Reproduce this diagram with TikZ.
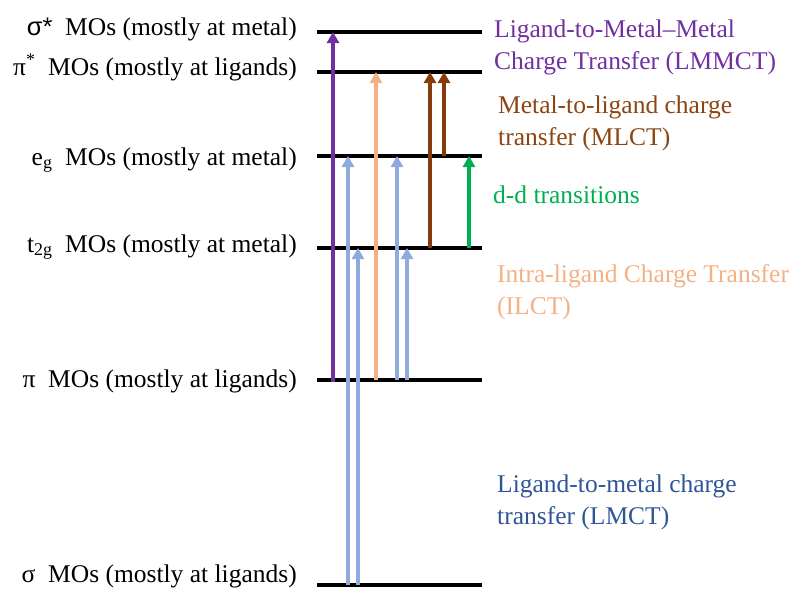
\documentclass[tikz,border=0pt]{standalone}
\usepackage{fontspec}
\setmainfont{Liberation Serif}
\newfontfamily\sansgr{Liberation Sans}
\usetikzlibrary{arrows.meta,calc}
\definecolor{cpurple}{HTML}{7030A0}
\definecolor{corange}{HTML}{F4B183}
\definecolor{cblue}{HTML}{8FAADC}
\definecolor{cbrown}{HTML}{843C0C}
\definecolor{cgreen}{HTML}{00B050}
\definecolor{cbluetext}{HTML}{2F5597}
\definecolor{cbrowntext}{HTML}{8B4513}
\begin{document}
\begin{tikzpicture}[x=1pt,y=-1pt,
  level/.style={line width=3.3pt, black},
  tr/.style={line width=3.5pt, -{Triangle[width=12pt,length=11pt]}},
  lab/.style={anchor=base east, inner sep=0pt, font=\fontsize{25.5}{32}\selectfont},
  rlab/.style={anchor=base west, inner sep=0pt, font=\fontsize{25.5}{32.5}\selectfont}]
\useasboundingbox (0,0) rectangle (796,590);
% levels
\foreach \n/\y in {sigs/32, pis/72, eg/156, tg/248, pi/380, sig/585}{
  \coordinate (\n L) at (317,\y);
  \coordinate (\n R) at (482,\y);
  \draw[level] (\n L) -- (\n R);
}
% columns
\foreach \n/\x in {cP/333, cB1/348, cB2/358, cO/376, cB3/397, cB4/407, cR1/430, cR2/444, cG/469}{
  \coordinate (\n) at (\x,0);
}
% left labels
\node[lab] (l1) at (297,35) {{\sansgr σ*}\ \ MOs (mostly at metal)};
\node[lab] (l2) at (297,75) {π\textsuperscript{*}\ \ MOs (mostly at ligands)};
\node[lab] (l3) at (297,165) {e\textsubscript{g}\ \ MOs (mostly at metal)};
\node[lab] (l4) at (297,252) {t\textsubscript{2g}\ \ MOs (mostly at metal)};
\node[lab] (l5) at (297,387) {π\ \ MOs (mostly at ligands)};
\node[lab] (l6) at (297,582) {σ\ \ MOs (mostly at ligands)};
% arrows
\draw[tr, cblue] (cB1 |- sigL) -- (cB1 |- egL);
\draw[tr, cblue] (cB2 |- sigL) -- (cB2 |- tgL);
\draw[tr, cpurple] ($(cP |- piL)+(0,1.5)$) -- (cP |- sigsL);
\draw[tr, corange] (cO |- piL) -- (cO |- pisL);
\draw[tr, cblue] (cB3 |- piL) -- (cB3 |- egL);
\draw[tr, cblue] (cB4 |- piL) -- (cB4 |- tgL);
\draw[tr, cbrown] (cR1 |- tgL) -- (cR1 |- pisL);
\draw[tr, cbrown] (cR2 |- egL) -- (cR2 |- pisL);
\draw[tr, cgreen] (cG |- tgL) -- (cG |- egL);
% right labels
\node[rlab, text=cpurple] (r1) at (494,37) {\parbox[t]{300pt}{Ligand-to-Metal–Metal\\Charge Transfer (LMMCT)}};
\node[rlab, text=cbrowntext] (r2) at (498,113) {\parbox[t]{300pt}{Metal-to-ligand charge\\transfer (MLCT)}};
\node[rlab, text=cgreen] (r3) at (493,203) {d-d transitions};
\node[rlab, text=corange] (r4) at (497,282) {\parbox[t]{300pt}{Intra-ligand Charge Transfer\\(ILCT)}};
\node[rlab, text=cbluetext] (r5) at (497,492) {\parbox[t]{300pt}{Ligand-to-metal charge\\transfer (LMCT)}};
\end{tikzpicture}
\end{document}
